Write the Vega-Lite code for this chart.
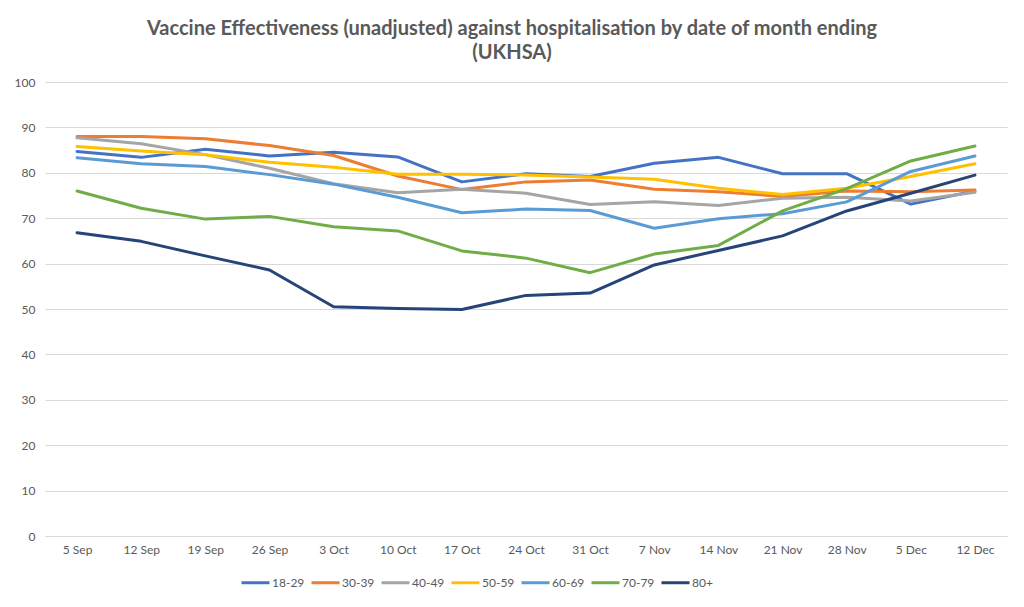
{
  "$schema": "https://vega.github.io/schema/vega-lite/v6.json",
  "autosize": "none",
  "width": 962,
  "height": 454,
  "padding": {"left": 45, "top": 82, "right": 17, "bottom": 71},
  "background": "white",
  "title": {
    "text": ["Vaccine  Effectiveness (unadjusted) against hospitalisation by date of month ending", "(UKHSA)"],
    "font": "Lato",
    "fontSize": 20,
    "fontWeight": "bold",
    "color": "#595959",
    "lineHeight": 24,
    "anchor": "middle",
    "dx": -14,
    "offset": 13
  },
  "config": {
    "view": {"stroke": null},
    "font": "Lato"
  },
  "data": {
    "values": [
      {"date": "5 Sep", "group": "18-29", "ve": 84.7},
      {"date": "12 Sep", "group": "18-29", "ve": 83.4},
      {"date": "19 Sep", "group": "18-29", "ve": 85.2},
      {"date": "26 Sep", "group": "18-29", "ve": 83.7},
      {"date": "3 Oct", "group": "18-29", "ve": 84.5},
      {"date": "10 Oct", "group": "18-29", "ve": 83.5},
      {"date": "17 Oct", "group": "18-29", "ve": 78.0},
      {"date": "24 Oct", "group": "18-29", "ve": 79.8},
      {"date": "31 Oct", "group": "18-29", "ve": 79.2},
      {"date": "7 Nov", "group": "18-29", "ve": 82.1},
      {"date": "14 Nov", "group": "18-29", "ve": 83.4},
      {"date": "21 Nov", "group": "18-29", "ve": 79.8},
      {"date": "28 Nov", "group": "18-29", "ve": 79.8},
      {"date": "5 Dec", "group": "18-29", "ve": 73.1},
      {"date": "12 Dec", "group": "18-29", "ve": 76.0},
      {"date": "5 Sep", "group": "30-39", "ve": 88.0},
      {"date": "12 Sep", "group": "30-39", "ve": 88.0},
      {"date": "19 Sep", "group": "30-39", "ve": 87.5},
      {"date": "26 Sep", "group": "30-39", "ve": 86.0},
      {"date": "3 Oct", "group": "30-39", "ve": 83.8},
      {"date": "10 Oct", "group": "30-39", "ve": 79.3},
      {"date": "17 Oct", "group": "30-39", "ve": 76.3},
      {"date": "24 Oct", "group": "30-39", "ve": 78.0},
      {"date": "31 Oct", "group": "30-39", "ve": 78.4},
      {"date": "7 Nov", "group": "30-39", "ve": 76.4},
      {"date": "14 Nov", "group": "30-39", "ve": 75.8},
      {"date": "21 Nov", "group": "30-39", "ve": 74.8},
      {"date": "28 Nov", "group": "30-39", "ve": 76.0},
      {"date": "5 Dec", "group": "30-39", "ve": 75.8},
      {"date": "12 Dec", "group": "30-39", "ve": 76.2},
      {"date": "5 Sep", "group": "40-49", "ve": 87.7},
      {"date": "12 Sep", "group": "40-49", "ve": 86.4},
      {"date": "19 Sep", "group": "40-49", "ve": 84.0},
      {"date": "26 Sep", "group": "40-49", "ve": 81.0},
      {"date": "3 Oct", "group": "40-49", "ve": 77.6},
      {"date": "10 Oct", "group": "40-49", "ve": 75.6},
      {"date": "17 Oct", "group": "40-49", "ve": 76.4},
      {"date": "24 Oct", "group": "40-49", "ve": 75.5},
      {"date": "31 Oct", "group": "40-49", "ve": 73.0},
      {"date": "7 Nov", "group": "40-49", "ve": 73.6},
      {"date": "14 Nov", "group": "40-49", "ve": 72.8},
      {"date": "21 Nov", "group": "40-49", "ve": 74.4},
      {"date": "28 Nov", "group": "40-49", "ve": 74.6},
      {"date": "5 Dec", "group": "40-49", "ve": 73.8},
      {"date": "12 Dec", "group": "40-49", "ve": 75.7},
      {"date": "5 Sep", "group": "50-59", "ve": 85.8},
      {"date": "12 Sep", "group": "50-59", "ve": 84.8},
      {"date": "19 Sep", "group": "50-59", "ve": 84.0},
      {"date": "26 Sep", "group": "50-59", "ve": 82.3},
      {"date": "3 Oct", "group": "50-59", "ve": 81.2},
      {"date": "10 Oct", "group": "50-59", "ve": 79.7},
      {"date": "17 Oct", "group": "50-59", "ve": 79.7},
      {"date": "24 Oct", "group": "50-59", "ve": 79.5},
      {"date": "31 Oct", "group": "50-59", "ve": 79.1},
      {"date": "7 Nov", "group": "50-59", "ve": 78.6},
      {"date": "14 Nov", "group": "50-59", "ve": 76.6},
      {"date": "21 Nov", "group": "50-59", "ve": 75.2},
      {"date": "28 Nov", "group": "50-59", "ve": 76.6},
      {"date": "5 Dec", "group": "50-59", "ve": 79.2},
      {"date": "12 Dec", "group": "50-59", "ve": 82.0},
      {"date": "5 Sep", "group": "60-69", "ve": 83.3},
      {"date": "12 Sep", "group": "60-69", "ve": 82.0},
      {"date": "19 Sep", "group": "60-69", "ve": 81.4},
      {"date": "26 Sep", "group": "60-69", "ve": 79.6},
      {"date": "3 Oct", "group": "60-69", "ve": 77.5},
      {"date": "10 Oct", "group": "60-69", "ve": 74.6},
      {"date": "17 Oct", "group": "60-69", "ve": 71.2},
      {"date": "24 Oct", "group": "60-69", "ve": 72.0},
      {"date": "31 Oct", "group": "60-69", "ve": 71.7},
      {"date": "7 Nov", "group": "60-69", "ve": 67.8},
      {"date": "14 Nov", "group": "60-69", "ve": 69.9},
      {"date": "21 Nov", "group": "60-69", "ve": 71.0},
      {"date": "28 Nov", "group": "60-69", "ve": 73.6},
      {"date": "5 Dec", "group": "60-69", "ve": 80.3},
      {"date": "12 Dec", "group": "60-69", "ve": 83.7},
      {"date": "5 Sep", "group": "70-79", "ve": 76.0},
      {"date": "12 Sep", "group": "70-79", "ve": 72.2},
      {"date": "19 Sep", "group": "70-79", "ve": 69.8},
      {"date": "26 Sep", "group": "70-79", "ve": 70.4},
      {"date": "3 Oct", "group": "70-79", "ve": 68.1},
      {"date": "10 Oct", "group": "70-79", "ve": 67.2},
      {"date": "17 Oct", "group": "70-79", "ve": 62.8},
      {"date": "24 Oct", "group": "70-79", "ve": 61.2},
      {"date": "31 Oct", "group": "70-79", "ve": 58.0},
      {"date": "7 Nov", "group": "70-79", "ve": 62.1},
      {"date": "14 Nov", "group": "70-79", "ve": 64.0},
      {"date": "21 Nov", "group": "70-79", "ve": 71.6},
      {"date": "28 Nov", "group": "70-79", "ve": 76.5},
      {"date": "5 Dec", "group": "70-79", "ve": 82.6},
      {"date": "12 Dec", "group": "70-79", "ve": 85.9},
      {"date": "5 Sep", "group": "80+", "ve": 66.8},
      {"date": "12 Sep", "group": "80+", "ve": 64.9},
      {"date": "19 Sep", "group": "80+", "ve": 61.7},
      {"date": "26 Sep", "group": "80+", "ve": 58.6},
      {"date": "3 Oct", "group": "80+", "ve": 50.5},
      {"date": "10 Oct", "group": "80+", "ve": 50.1},
      {"date": "17 Oct", "group": "80+", "ve": 49.9},
      {"date": "24 Oct", "group": "80+", "ve": 53.0},
      {"date": "31 Oct", "group": "80+", "ve": 53.5},
      {"date": "7 Nov", "group": "80+", "ve": 59.7},
      {"date": "14 Nov", "group": "80+", "ve": 62.9},
      {"date": "21 Nov", "group": "80+", "ve": 66.1},
      {"date": "28 Nov", "group": "80+", "ve": 71.6},
      {"date": "5 Dec", "group": "80+", "ve": 75.5},
      {"date": "12 Dec", "group": "80+", "ve": 79.5}
    ]
  },
  "mark": {"type": "line", "strokeWidth": 3, "strokeJoin": "round", "strokeCap": "round"},
  "encoding": {
    "x": {
      "field": "date",
      "type": "ordinal",
      "sort": null,
      "scale": {"type": "point", "padding": 0.5},
      "axis": {
        "title": null,
        "labelAngle": 0,
        "labelFont": "Lato",
        "labelFontSize": 12,
        "labelColor": "#595959",
        "labelPadding": 8,
        "ticks": false,
        "domain": true,
        "domainColor": "#d9d9d9",
        "grid": false
      }
    },
    "y": {
      "field": "ve",
      "type": "quantitative",
      "scale": {"domain": [0, 100]},
      "axis": {
        "title": null,
        "values": [0, 10, 20, 30, 40, 50, 60, 70, 80, 90, 100],
        "labelFont": "Lato",
        "labelFontSize": 12,
        "labelColor": "#595959",
        "labelPadding": 10,
        "ticks": false,
        "domain": false,
        "grid": true,
        "gridColor": "#d9d9d9",
        "gridWidth": 1
      }
    },
    "color": {
      "field": "group",
      "type": "nominal",
      "scale": {
        "domain": ["18-29", "30-39", "40-49", "50-59", "60-69", "70-79", "80+"],
        "range": ["#4472C4", "#ED7D31", "#A5A5A5", "#FFC000", "#5B9BD5", "#70AD47", "#264478"]
      },
      "legend": {
        "title": null,
        "orient": "none",
        "direction": "horizontal",
        "columns": 7,
        "legendX": 195,
        "legendY": 485,
        "symbolType": "stroke",
        "symbolSize": 784,
        "symbolStrokeWidth": 3,
        "labelFont": "Lato",
        "labelFontSize": 12,
        "labelColor": "#595959",
        "labelOffset": 1,
        "columnPadding": 0
      }
    }
  }
}
